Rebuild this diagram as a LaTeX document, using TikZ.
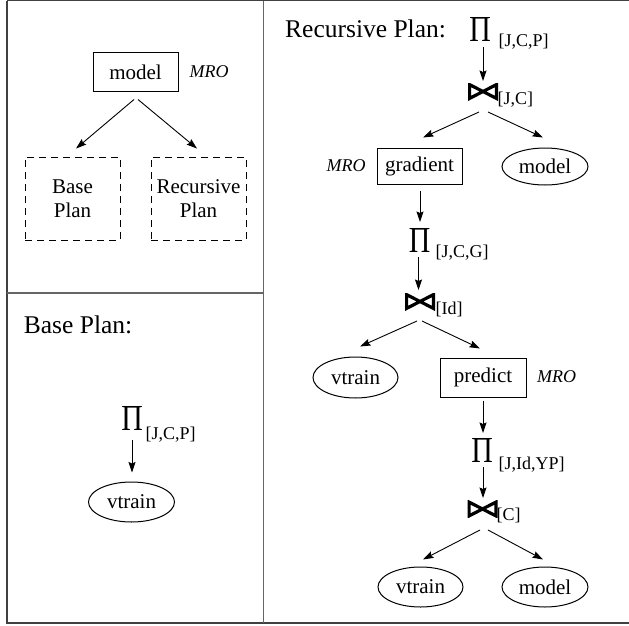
\documentclass[tikz,border=0pt]{standalone}
\usepackage{fontspec}
\setmainfont{Liberation Serif}
\usetikzlibrary{arrows.meta,shapes.geometric}

% projection glyph
\newcommand{\prodsym}{\resizebox{21.5pt}{24pt}{Π}}

\tikzset{
  frame/.style={line width=1.1pt, draw=black!75},
  op/.style={inner sep=0pt, outer sep=0pt},
  % join operator drawn as a heavy bow-tie
  joinop/.style={inner sep=0pt, outer sep=0pt, minimum width=30pt, minimum height=17pt,
    path picture={
      \draw[line width=3.2pt, line join=miter]
        ([shift={(1.6pt,-1.6pt)}]path picture bounding box.north west)
        -- ([shift={(-1.6pt,1.6pt)}]path picture bounding box.south east)
        -- ([shift={(-1.6pt,-1.6pt)}]path picture bounding box.north east)
        -- ([shift={(1.6pt,1.6pt)}]path picture bounding box.south west)
        -- cycle;
    }},
  subs/.style={anchor=base west, inner sep=0pt, font=\fontsize{18}{20}\selectfont},
  heading/.style={anchor=base west, inner sep=0pt, font=\fontsize{25.5}{28}\selectfont},
  mro/.style={inner sep=0pt, font=\fontsize{18}{20}\selectfont\itshape},
  rel/.style={draw, ellipse, line width=1pt, inner sep=0pt,
              minimum width=86pt, minimum height=40pt, font=\fontsize{21}{24}\selectfont},
  fn/.style={draw, rectangle, line width=1pt, inner sep=0pt,
             minimum width=85pt, minimum height=38pt, font=\fontsize{21}{24}\selectfont},
  plan/.style={draw, rectangle, line width=0.9pt, dash pattern=on 7pt off 5pt, inner sep=0pt,
               minimum width=95pt, minimum height=83pt, align=center,
               font=\fontsize{21}{23.5}\selectfont},
  arr/.style={-{Stealth[length=10.5pt,width=7pt,inset=1.5pt]}, line width=0.9pt}
}

\begin{document}
\begin{tikzpicture}[x=1pt,y=-1pt]
\useasboundingbox (0,0) rectangle (629,626);

% panel frame
\draw[frame] (7,0.6) -- (629,0.6);
\draw[frame] (7,0.6) -- (7,623) -- (629,623);
\draw[frame, draw=black!60, line width=1.4pt] (263.5,0.6) -- (263.5,623);
\draw[frame, draw=black!60, line width=1.4pt] (7,293) -- (263.5,293);

% overview: model over base / recursive plan
\node[fn] (m) at (135.5,72) {model};
\node[mro] (mroa) at (209,72) {MRO};
\node[plan] (bp) at (72.5,198.5) {Base\\Plan};
\node[plan] (rp) at (198.5,198.5) {Recursive\\Plan};
\draw[arr] ([shift={(-1.5,8)}]m.south) -- ([shift={(3.5,-8)}]bp.north);
\draw[arr] ([shift={(2.5,8)}]m.south) -- ([shift={(-1.5,-8)}]rp.north);

% base plan
\node[heading] (bh) at (23.7,333) {Base Plan:};
\node[op] (pb) at (132,418.5) {\prodsym};
\node[subs] (pbs) at (145.5,439) {[J,C,P]};
\node[rel] (vb) at (131.5,502) {vtrain};
\draw[arr] ([shift={(0,9.5)}]pb.south) -- ([shift={(0.5,-9)}]vb.north);

% recursive plan
\node[heading] (rh) at (285,37.7) {Recursive Plan:};
\node[op] (p1) at (480,29.5) {\prodsym};
\node[subs] (p1s) at (498.5,46.7) {[J,C,P]};
\node[joinop] (j1) at (483,91.5) {};
\node[subs] (j1s) at (497.5,104.7) {[J,C]};
\node[fn, minimum height=36pt] (g) at (419.5,166) {gradient};
\node[mro] (mrob) at (346,166) {MRO};
\node[rel, minimum height=37pt] (m1) at (545,166.5) {model};
\node[op] (p2) at (419.5,240) {\prodsym};
\node[subs] (p2s) at (435.5,257) {[J,C,G]};
\node[joinop] (j2) at (420,301.5) {};
\node[subs] (j2s) at (435.5,314.5) {[Id]};
\node[rel, minimum width=85pt, minimum height=41pt] (v1) at (355.5,377.5) {vtrain};
\node[fn, minimum width=86pt, minimum height=39pt] (pr) at (483,377.5) {predict};
\node[mro] (mroc) at (556.5,377) {MRO};
\node[op] (p3) at (482,450.5) {\prodsym};
\node[subs] (p3s) at (498.5,469) {[J,Id,YP]};
\node[joinop] (j3) at (482.5,509) {};
\node[subs] (j3s) at (496.5,520) {[C]};
\node[rel, minimum width=85pt] (v2) at (420.5,587) {vtrain};
\node[rel] (m2) at (545,587) {model};

\draw[arr] ([shift={(3,5.5)}]p1.south) -- ([shift={(0,-2)}]j1.north);
\draw[arr] ([shift={(-4,12)}]j1.south) -- ([shift={(3.5,-10)}]g.north);
\draw[arr] ([shift={(5,12)}]j1.south) -- ([shift={(-2,-10)}]m1.north);
\draw[arr] ([shift={(0.5,6)}]g.south) -- ([shift={(0.5,-6)}]p2.north);
\draw[arr] ([shift={(-1,5)}]p2.south) -- ([shift={(-1.5,-3)}]j2.north);
\draw[arr] ([shift={(-3,11)}]j2.south) -- ([shift={(4.5,-10)}]v1.north);
\draw[arr] ([shift={(2,11)}]j2.south) -- ([shift={(-3,-9)}]pr.north);
\draw[arr] ([shift={(0,3)}]pr.south) -- ([shift={(1,-5.5)}]p3.north);
\draw[arr] ([shift={(1,4.5)}]p3.south) -- ([shift={(0.5,-2.5)}]j3.north);
\draw[arr] ([shift={(-2.5,12.5)}]j3.south) -- ([shift={(2.5,-7)}]v2.north);
\draw[arr] ([shift={(5.5,12.5)}]j3.south) -- ([shift={(-2,-7)}]m2.north);
\end{tikzpicture}
\end{document}
